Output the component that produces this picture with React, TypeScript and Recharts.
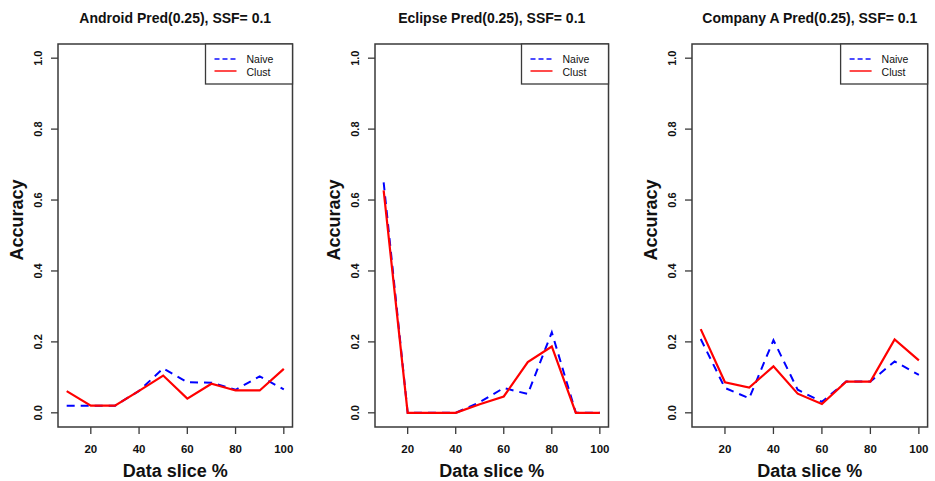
import { LineChart, Line, XAxis, YAxis, ReferenceArea } from 'recharts';

const slices = [10, 20, 30, 40, 50, 60, 70, 80, 90, 100];
const xTicks = [20, 40, 60, 80, 100];
const yTicks = [0, 0.2, 0.4, 0.6, 0.8, 1.0];

const androidNaive = [0.02, 0.02, 0.02, 0.062, 0.125, 0.086, 0.085, 0.065, 0.103, 0.066];
const androidClust = [0.061, 0.02, 0.02, 0.062, 0.105, 0.04, 0.082, 0.063, 0.063, 0.124];
const eclipseNaive = [0.65, 0, 0, 0, 0.03, 0.07, 0.053, 0.227, 0, 0];
const eclipseClust = [0.627, 0, 0, 0, 0.024, 0.046, 0.143, 0.187, 0, 0];
const companyNaive = [0.208, 0.07, 0.041, 0.205, 0.065, 0.031, 0.088, 0.088, 0.145, 0.107];
const companyClust = [0.236, 0.086, 0.071, 0.131, 0.054, 0.025, 0.088, 0.088, 0.207, 0.148];

const titles = [
  'Android Pred(0.25), SSF= 0.1',
  'Eclipse Pred(0.25), SSF= 0.1',
  'Company A Pred(0.25), SSF= 0.1',
];

const FONT = '"Liberation Sans", Arial, Helvetica, sans-serif';
const INK = '#3a3a3a';
const X_DOMAIN: [number, number] = [6.4, 103.6];
const Y_DOMAIN: [number, number] = [-0.04, 1.04];
const BOX_TOP = 44;
const BOX_BOTTOM = 427;

const panels = [
  { title: titles[0], naive: androidNaive, clust: androidClust, left: 57.5, right: 292 },
  { title: titles[1], naive: eclipseNaive, clust: eclipseClust, left: 375, right: 608.5 },
  { title: titles[2], naive: companyNaive, clust: companyClust, left: 691.7, right: 927.3 },
];

function YTick({ x, y, payload }: any) {
  const cx = x - 13;
  return (
    <text
      x={cx}
      y={y}
      transform={`rotate(-90 ${cx} ${y})`}
      textAnchor="middle"
      dominantBaseline="central"
      fontFamily={FONT}
      fontWeight="bold"
      fontSize={11}
      fill="#111"
    >
      {Number(payload.value).toFixed(1)}
    </text>
  );
}

function XTick({ x, y, payload }: any) {
  return (
    <text
      x={x}
      y={y + 15}
      textAnchor="middle"
      dominantBaseline="central"
      fontFamily={FONT}
      fontWeight="bold"
      fontSize={11.5}
      fill="#111"
    >
      {payload.value}
    </text>
  );
}

function Panel({ title, naive, clust, left, right }: any) {
  const data = slices.map((s, i) => ({ slice: s, naive: naive[i], clust: clust[i] }));
  const plotW = right - left;
  const width = plotW + 70;
  const legL = plotW + 60 - 87;
  const mid = 60 + plotW / 2;
  return (
    <div style={{ position: 'absolute', left: left - 60, top: 0, width, height: 481 }}>
      <LineChart
        width={width}
        height={481}
        data={data}
        margin={{ top: BOX_TOP, right: 10, bottom: 481 - BOX_BOTTOM - 30, left: 20 }}
      >
        <XAxis
          dataKey="slice"
          type="number"
          domain={X_DOMAIN}
          ticks={xTicks}
          allowDataOverflow
          axisLine={false}
          tickSize={7}
          tickMargin={0}
          tickLine={{ stroke: INK, strokeWidth: 1.3 }}
          tick={<XTick />}
          height={30}
        />
        <YAxis
          type="number"
          domain={Y_DOMAIN}
          ticks={yTicks}
          allowDataOverflow
          axisLine={false}
          tickSize={7}
          tickMargin={0}
          tickLine={{ stroke: INK, strokeWidth: 1.3 }}
          tick={<YTick />}
          width={40}
        />
        <ReferenceArea
          x1={X_DOMAIN[0]}
          x2={X_DOMAIN[1]}
          y1={Y_DOMAIN[0]}
          y2={Y_DOMAIN[1]}
          fill="none"
          stroke={INK}
          strokeWidth={1.5}
          ifOverflow="visible"
        />
        <Line
          dataKey="naive"
          type="linear"
          stroke="#0000ff"
          strokeWidth={2}
          strokeDasharray="8 6"
          dot={false}
          activeDot={false}
          isAnimationActive={false}
        />
        <Line
          dataKey="clust"
          type="linear"
          stroke="#ff0000"
          strokeWidth={2.2}
          dot={false}
          activeDot={false}
          isAnimationActive={false}
        />
      </LineChart>
      <svg
        width={width}
        height={481}
        style={{ position: 'absolute', left: 0, top: 0, pointerEvents: 'none' }}
        fontFamily={FONT}
      >
        <text x={mid} y={23} textAnchor="middle" fontWeight="bold" fontSize={14} fill="#111">
          {title}
        </text>
        <text
          x={19}
          y={220}
          transform={`rotate(-90 19 220)`}
          textAnchor="middle"
          dominantBaseline="central"
          fontWeight="bold"
          fontSize={18}
          fill="#111"
        >
          Accuracy
        </text>
        <text x={mid} y={477} textAnchor="middle" fontWeight="bold" fontSize={18} fill="#111">
          Data slice %
        </text>
        <rect x={legL} y={BOX_TOP} width={87} height={40} fill="#fff" stroke={INK} strokeWidth={1.3} />
        <line x1={legL + 9} x2={legL + 31} y1={59} y2={59} stroke="#0000ff" strokeWidth={2} strokeDasharray="5 3" opacity={0.7} />
        <line x1={legL + 9} x2={legL + 31} y1={71} y2={71} stroke="#ff0000" strokeWidth={2} opacity={0.7} />
        <text x={legL + 41} y={63} fontSize={10.5} fill="#111">Naive</text>
        <text x={legL + 41} y={75.5} fontSize={10.5} fill="#111">Clust</text>
      </svg>
    </div>
  );
}

export default function App() {
  return (
    <div
      style={{
        position: 'absolute',
        left: 0,
        top: 0,
        width: 935,
        height: 481,
        background: '#fff',
        overflow: 'hidden',
      }}
    >
      {panels.map((p) => (
        <Panel key={p.title} {...p} />
      ))}
    </div>
  );
}
